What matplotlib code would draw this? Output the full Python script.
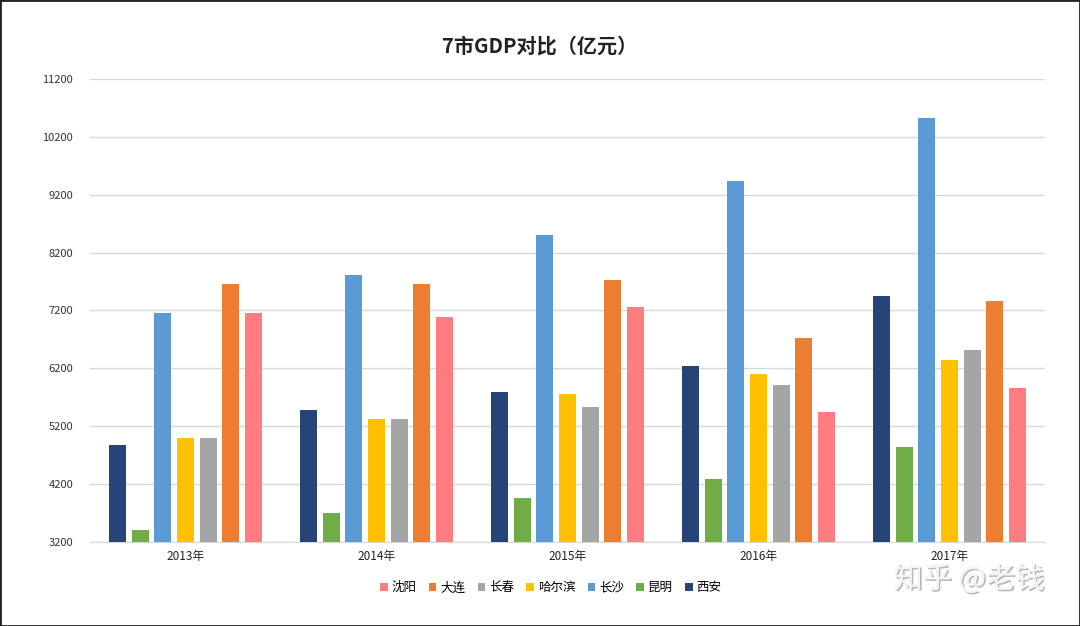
import matplotlib
matplotlib.use("Agg")
import matplotlib.pyplot as plt
import matplotlib.patheffects as pe
import numpy as np
from matplotlib.patches import Rectangle

plt.rcParams['font.family'] = ['Noto Sans CJK SC', 'DejaVu Sans']

years = ["2013年", "2014年", "2015年", "2016年", "2017年"]
cities = ["西安", "昆明", "长沙", "哈尔滨", "长春", "大连", "沈阳"]
xian = [4875, 5480, 5790, 6245, 7454]
kunming = [3407, 3707, 3966, 4294, 4846]
changsha = [7150, 7811, 8497, 9440, 10518]
harbin = [5001, 5330, 5750, 6096, 6343]
changchun = [4990, 5330, 5526, 5906, 6521]
dalian = [7650, 7650, 7720, 6717, 7357]
shenyang = [7150, 7086, 7253, 5450, 5854]
series = [xian, kunming, changsha, harbin, changchun, dalian, shenyang]
colors = ["#264478", "#70AD47", "#5B9BD5", "#FFC000", "#A5A5A5", "#ED7D31", "#FF7C80"]
yticks = list(range(3200, 11201, 1000))

fig = plt.figure(figsize=(10.8, 6.26), dpi=100)
ax = fig.add_axes([0.0833, 0.1342, 0.8843, 0.7396])

x = np.arange(len(years))
pitch = 0.118
width = 0.089
handles = []
for i, (vals, c, name) in enumerate(zip(series, colors, cities)):
    off = (i - 3) * pitch
    b = ax.bar(x + off, np.array(vals) - 3200, bottom=3200, width=width, color=c, label=name, zorder=3)
    handles.append(b)

ax.set_xlim(-0.5, len(years) - 0.5)
ax.set_ylim(3200, 11200)
ax.set_yticks(yticks)
ax.set_yticklabels([str(v) for v in yticks], fontsize=8, color="#333333")
ax.set_xticks(x)
ax.set_xticklabels(years, fontsize=8.5, color="#222222")
ax.tick_params(axis='both', length=0, pad=6)
ax.tick_params(axis='y', pad=12)
ax.grid(axis='y', color="#D9D9D9", linewidth=1, zorder=0)
for s in ["top", "right", "left"]:
    ax.spines[s].set_visible(False)
ax.spines["bottom"].set_color("#D9D9D9")

fig.text(0.5, 0.927, "7市GDP对比（亿元）", ha='center', va='center', fontsize=14.5, fontweight='bold', color="#222222")

leg = fig.legend(handles[::-1], cities[::-1], loc='center', bbox_to_anchor=(0.51, 0.061), ncol=7,
                 frameon=False, fontsize=9, handlelength=0.6, handleheight=0.6, handletextpad=0.3,
                 columnspacing=1.0)

# watermark (embossed look via path effects)
fig.text(0.897, 0.074, "知乎 @老钱", ha='center', va='center', fontsize=21, color="#f4f4f4",
         path_effects=[pe.withSimplePatchShadow(offset=(1.2, -1.2), shadow_rgbFace="#8a8a8a", alpha=0.6),
                       pe.Normal()])

# border
fig.patches.append(Rectangle((0, 0), 1, 1, transform=fig.transFigure, fill=False, edgecolor="#222222", linewidth=2))

fig.savefig("out.png", dpi=100)
